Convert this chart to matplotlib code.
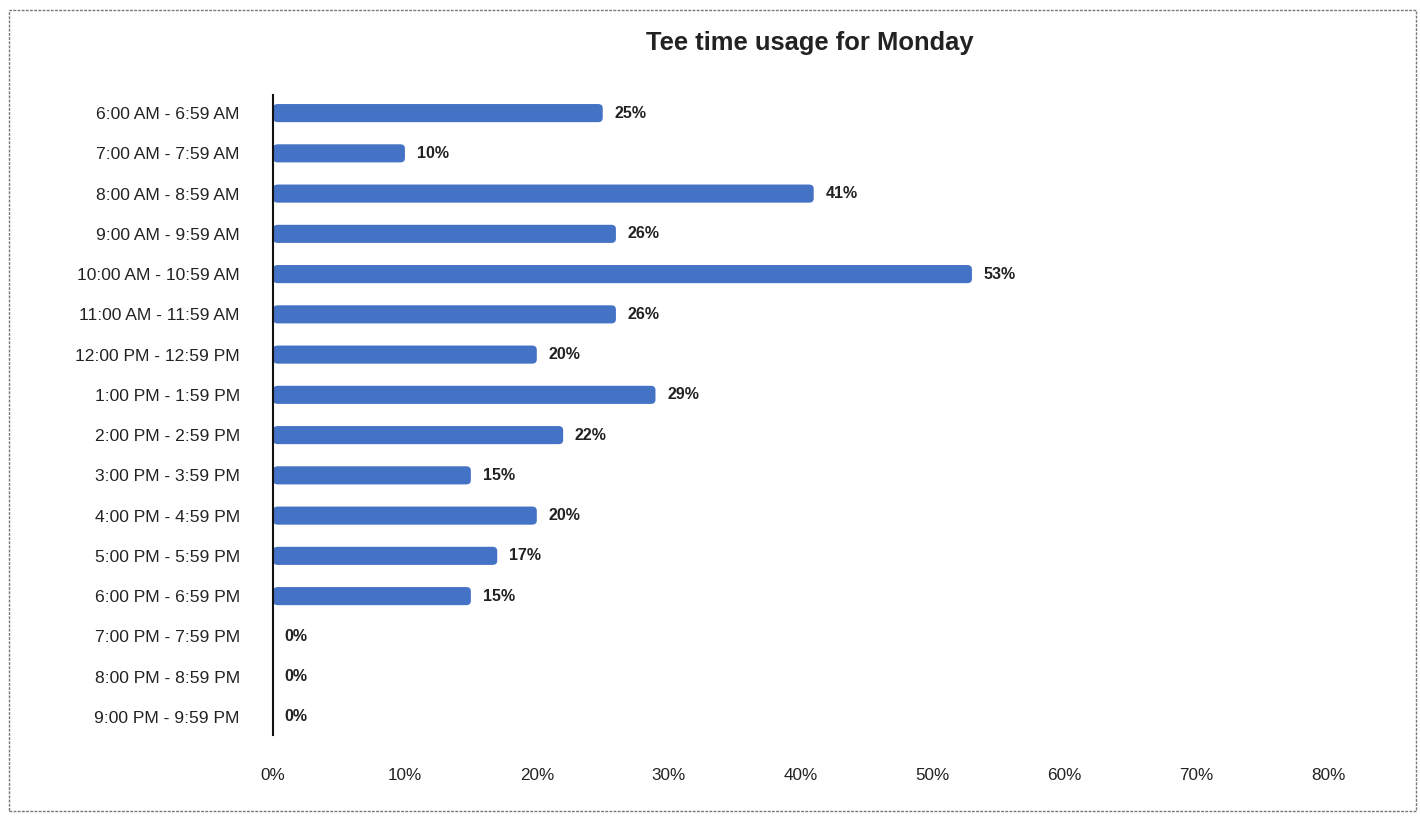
import matplotlib
matplotlib.use("Agg")
import matplotlib.pyplot as plt
from matplotlib.patches import Rectangle, FancyBboxPatch

plt.rcParams['font.family'] = ['Liberation Sans', 'DejaVu Sans']

categories = ["6:00 AM - 6:59 AM", "7:00 AM - 7:59 AM", "8:00 AM - 8:59 AM",
              "9:00 AM - 9:59 AM", "10:00 AM - 10:59 AM", "11:00 AM - 11:59 AM",
              "12:00 PM - 12:59 PM", "1:00 PM - 1:59 PM", "2:00 PM - 2:59 PM",
              "3:00 PM - 3:59 PM", "4:00 PM - 4:59 PM", "5:00 PM - 5:59 PM",
              "6:00 PM - 6:59 PM", "7:00 PM - 7:59 PM", "8:00 PM - 8:59 PM",
              "9:00 PM - 9:59 PM"]
usage = [25, 10, 41, 26, 53, 26, 20, 29, 22, 15, 20, 17, 15, 0, 0, 0]
xticks = [0, 10, 20, 30, 40, 50, 60, 70, 80]
xtick_labels = ["0%", "10%", "20%", "30%", "40%", "50%", "60%", "70%", "80%"]

fig = plt.figure(figsize=(14.2, 8.16), dpi=100)
ax = fig.add_axes([0.1923, 0.0993, 0.7429, 0.7843])

color = "#4472C4"
y = list(range(len(categories)))
bars = ax.barh(y, usage, height=0.45, color=color)

# replace rectangles with rounded versions (same geometry)
for rect in bars.patches:
    x0, y0 = rect.get_x(), rect.get_y()
    w, h = rect.get_width(), rect.get_height()
    rect.set_visible(False)
    if w <= 0:
        continue
    rb = FancyBboxPatch((x0, y0), w, h,
                        boxstyle="round,pad=0,rounding_size=0.35",
                        mutation_aspect=0.3, facecolor=color,
                        edgecolor='none', zorder=2)
    ax.add_patch(rb)

for yi, v in zip(y, usage):
    ax.annotate(f"{v}%", xy=(v, yi), xytext=(8.5, 0), textcoords='offset points',
                va='center', ha='left', fontsize=11.5, fontweight='bold',
                color='#222222')

ax.set_xlim(0, 80)
ax.set_ylim(15.45, -0.45)
ax.set_yticks(y)
ax.set_yticklabels(categories, fontsize=12.6, color='#222222')
ax.set_xticks(xticks)
ax.set_xticklabels(xtick_labels, fontsize=12.3, color='#222222')
ax.tick_params(axis='y', length=0, pad=24)
ax.tick_params(axis='x', length=0, pad=24)

for s in ['top', 'right', 'bottom']:
    ax.spines[s].set_visible(False)
ax.spines['left'].set_color('#111111')
ax.spines['left'].set_linewidth(1.5)
ax.spines['left'].set_zorder(3)

fig.text(0.570, 0.947, "Tee time usage for Monday", ha='center', va='center',
         fontsize=18.4, fontweight='bold', color='#222222')

border = Rectangle((0.006, 0.006), 0.991, 0.982, transform=fig.transFigure,
                   fill=False, edgecolor='#777777', linestyle=(0, (2, 1)),
                   linewidth=1.0)
fig.patches.append(border)

fig.savefig("out.png", dpi=100, facecolor='white')
